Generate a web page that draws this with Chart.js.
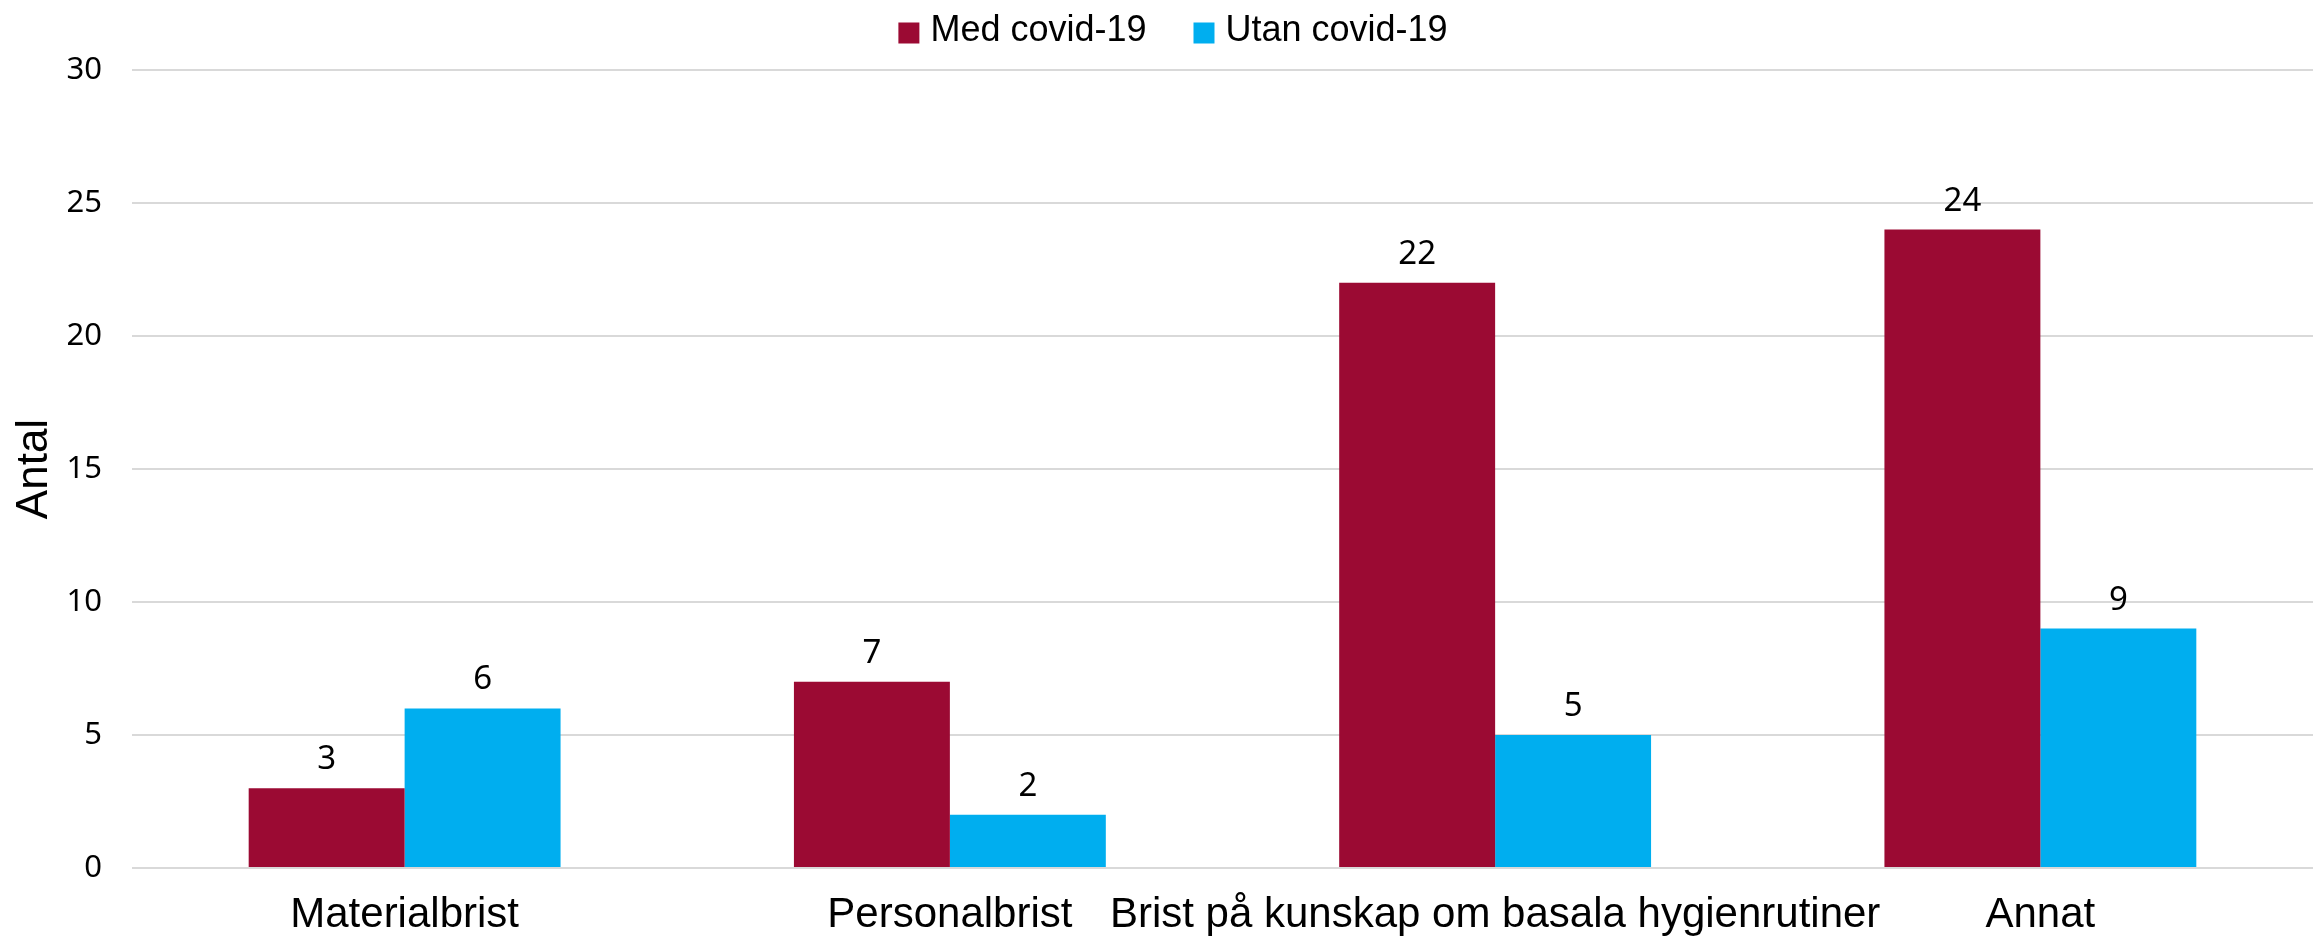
<!DOCTYPE html>
<html lang="sv">
<head>
<meta charset="utf-8">
<title>Antal</title>
<script src="https://cdn.jsdelivr.net/npm/chart.js@4"></script>
<style>
    html, body { margin: 0; padding: 0; background: #ffffff; }
    #wrap { width: 2318px; height: 941px; position: relative; }
</style>
</head>
<body>
<div id="wrap"><canvas id="chart"></canvas></div>
<script>
// Kategorier och värden
const categories = ['Materialbrist', 'Personalbrist', 'Brist på kunskap om basala hygienrutiner', 'Annat'];
const seriesNames = ['Med covid-19', 'Utan covid-19'];
const medCovid = [3, 7, 22, 24];
const utanCovid = [6, 2, 5, 9];
const yTicks = [0, 5, 10, 15, 20, 25, 30];

const narrow = '"Liberation Sans Narrow", "Arial Narrow", sans-serif';
const sans = '"Noto Sans", "Open Sans", sans-serif';

// Skriver värdet ovanför varje stapel
const valueLabels = {
    id: 'valueLabels',
    afterDatasetsDraw(chart) {
        const ctx = chart.ctx;
        ctx.save();
        ctx.fillStyle = '#000000';
        ctx.font = '33px ' + sans;
        ctx.textAlign = 'center';
        ctx.textBaseline = 'alphabetic';
        chart.data.datasets.forEach((ds, i) => {
            chart.getDatasetMeta(i).data.forEach((bar, j) => {
                ctx.fillText(String(ds.data[j]), bar.x, bar.y - 19);
            });
        });
        ctx.restore();
    }
};

// Egen förklaring överst: ruta + text per serie
const topLegend = {
    id: 'topLegend',
    afterDraw(chart) {
        const ctx = chart.ctx;
        const box = 21, gap = 11, itemGap = 47;
        ctx.save();
        ctx.font = '36px ' + narrow;
        ctx.textBaseline = 'middle';
        ctx.textAlign = 'left';
        const items = chart.data.datasets.map(ds => ({
            text: ds.label,
            color: ds.backgroundColor,
            w: ctx.measureText(ds.label).width
        }));
        const total = items.reduce((s, it) => s + box + gap + it.w, 0) + itemGap * (items.length - 1);
        let x = chart.width / 2 + 14 - total / 2;
        const y = 33;
        items.forEach(it => {
            ctx.fillStyle = it.color;
            ctx.fillRect(x, y - box / 2, box, box);
            x += box + gap;
            ctx.fillStyle = '#000000';
            ctx.fillText(it.text, x, y - 2);
            x += it.w + itemGap;
        });
        ctx.restore();
    }
};

const ctx = document.getElementById('chart').getContext('2d');
const chart = new Chart(ctx, {
    type: 'bar',
    data: {
        labels: categories,
        datasets: [
            {
                label: seriesNames[0],
                data: medCovid,
                backgroundColor: '#9B0A33'
            },
            {
                label: seriesNames[1],
                data: utanCovid,
                backgroundColor: '#00AEEF'
            }
        ]
    },
    options: {
        responsive: true,
        maintainAspectRatio: false,
        animation: false,
        datasets: {
            bar: {
                barPercentage: 1,
                categoryPercentage: 0.572
            }
        },
        layout: {
            padding: { top: 70, right: 5, left: 0, bottom: 0 }
        },
        plugins: {
            legend: { display: false },
            tooltip: { enabled: false }
        },
        scales: {
            x: {
                grid: { display: false },
                border: { display: false },
                ticks: {
                    color: '#000000',
                    padding: 14,
                    maxRotation: 0,
                    autoSkip: false,
                    font: { family: narrow, size: 42 }
                },
                afterFit(scale) { scale.height = 73; }
            },
            y: {
                min: 0,
                max: 30,
                border: { display: false },
                grid: { color: '#d9d9d9', lineWidth: 2, drawTicks: false },
                afterBuildTicks(scale) {
                    scale.ticks = yTicks.map(v => ({ value: v }));
                },
                ticks: {
                    color: '#000000',
                    padding: 30,
                    font: { family: sans, size: 31 }
                },
                title: {
                    display: true,
                    text: 'Antal',
                    color: '#000000',
                    padding: { top: 8, bottom: 0 },
                    font: { family: narrow, size: 44 }
                },
                afterFit(scale) { scale.width = 132; }
            }
        }
    },
    plugins: [valueLabels, topLegend]
});
</script>
</body>
</html>
